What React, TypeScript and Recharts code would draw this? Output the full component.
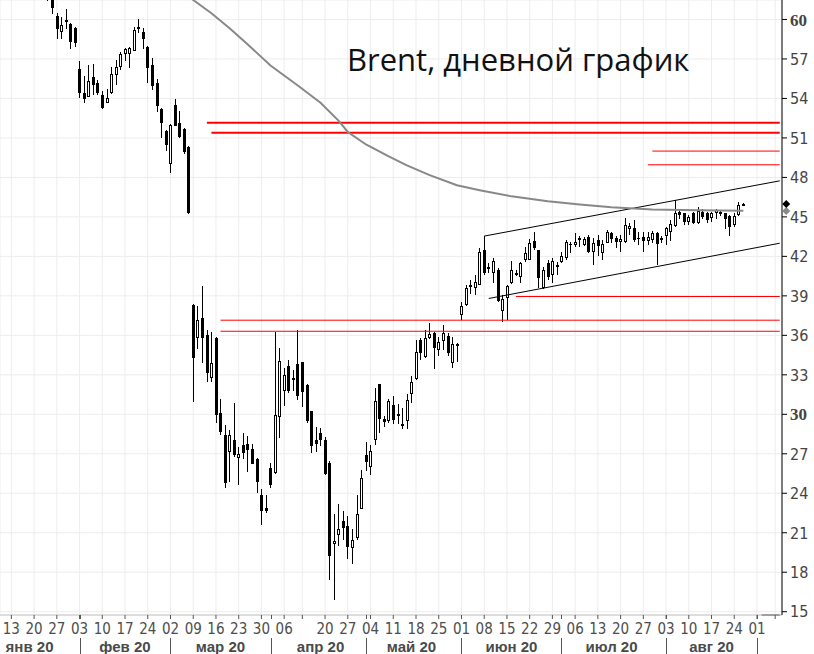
import React from "react";
import {
  ComposedChart,
  Bar,
  Line,
  XAxis,
  YAxis,
  CartesianGrid,
  ReferenceLine,
  ReferenceDot,
} from "recharts";

// ---- categories: trading days (MM-DD, 2020) ----
const dates = [
  "01-09","01-10","01-13","01-14","01-15","01-16","01-17","01-20","01-21","01-22","01-23","01-24","01-27","01-28","01-29","01-30","01-31",
  "02-03","02-04","02-05","02-06","02-07","02-10","02-11","02-12","02-13","02-14","02-17","02-18","02-19","02-20","02-21","02-24","02-25","02-26","02-27","02-28",
  "03-02","03-03","03-04","03-05","03-06","03-09","03-10","03-11","03-12","03-13","03-16","03-17","03-18","03-19","03-20","03-23","03-24","03-25","03-26","03-27","03-30","03-31",
  "04-01","04-02","04-03","04-06","04-07","04-08","04-09","04-10","04-14","04-15","04-16","04-17","04-20","04-21","04-22","04-23","04-24","04-27","04-28","04-29","04-30",
  "05-01","05-04","05-05","05-06","05-07","05-08","05-11","05-12","05-13","05-14","05-15","05-18","05-19","05-20","05-21","05-22","05-25","05-26","05-27","05-28","05-29",
  "06-01","06-02","06-03","06-04","06-05","06-08","06-09","06-10","06-11","06-12","06-15","06-16","06-17","06-18","06-19","06-22","06-23","06-24","06-25","06-26","06-29","06-30",
  "07-01","07-02","07-03","07-06","07-07","07-08","07-09","07-10","07-13","07-14","07-15","07-16","07-17","07-20","07-21","07-22","07-23","07-24","07-27","07-28","07-29","07-30","07-31",
  "08-03","08-04","08-05","08-06","08-07","08-10","08-11","08-12","08-13","08-14","08-17","08-18","08-19","08-20","08-21","08-24","08-25","08-26","08-27","08-28",
  "09-01","09-02","09-03","09-04","09-07","09-08",
];

// ---- candles: Jan 23 .. Aug 26 ----
const candleStart = "01-23";
const open = [
  62.5,61.9,60.3,59.07,59.92,59.69,59.38,
  56.24,54.43,54.12,55.65,55.19,54.28,53.66,54.43,55.81,56.42,57.39,57.39,57.62,59.38,59.07,57.93,56.57,55.19,53.2,51.52,
  49.02,53.51,52.13,51.67,50.32,38.29,35.83,37.28,36.01,32.79,35.8,30.13,28.4,27.13,28.08,26.71,27.7,27.77,27.34,26.63,23.84,22.91,
  25.95,25.54,29.83,31.75,33.65,32.59,33.8,33.95,32.23,30.23,28.02,28.61,28.02,26.27,20.17,20.85,21.86,21.48,19.86,20.59,22.83,
  26.88,25.99,28.08,32.28,29.62,29.49,30.69,30.05,29.29,29.47,31.52,32.72,35.63,34.36,35.76,36.14,34.92,35.57,35.93,33.86,35.17,
  37.53,38.29,39.81,39.56,39.86,42.52,41.2,40.7,40.95,37.86,38.8,39.94,40.65,40.44,41.71,41.76,43.18,42.47,39.56,41.51,40.57,41.2,
  41.58,41.89,42.93,42.85,43.36,42.85,43.44,42.34,43.23,42.22,43.03,43.79,43.36,43.06,43.1,44.05,44.12,43.36,43.48,43.18,43.23,43.74,43.29,
  43.54,43.86,44.3,45.38,45.26,44.62,45.26,44.55,45.38,45.26,44.88,45.26,45.21,45.26,45.06,44.37,45.13,45.95,
];
const high = [
  63.0,62.2,60.53,60.22,60.76,59.77,59.46,
  56.86,55.73,56.57,56.65,55.42,54.58,54.73,56.42,56.95,57.55,57.82,57.93,59.46,60.07,59.38,57.97,57.11,55.5,53.24,51.59,
  52.05,53.97,53.05,51.75,50.39,38.37,38.21,39.73,36.44,36.26,35.88,31.19,29.16,28.84,30.89,27.51,28.61,28.38,27.72,26.7,24.35,23.84,
  26.27,36.26,35.0,33.55,34.16,33.35,36.39,34.0,32.27,30.27,29.03,28.96,28.27,26.48,22.4,23.16,22.62,22.24,21.31,23.84,25.74,
  27.89,27.64,32.03,32.3,29.85,31.19,31.37,30.76,30.51,31.52,32.89,35.68,35.76,36.44,36.97,36.26,35.88,36.77,36.14,35.88,35.42,
  38.54,39.81,40.24,40.57,42.6,43.54,41.46,41.84,41.08,39.05,39.81,41.66,41.0,41.58,42.72,43.29,43.86,42.52,41.2,41.76,41.84,41.58,
  42.34,43.23,43.1,43.74,43.54,43.44,43.61,43.36,43.61,43.23,43.99,43.86,43.54,43.61,44.88,44.5,44.75,43.86,43.86,43.86,43.94,43.86,43.54,
  44.24,44.75,46.27,45.57,45.31,45.13,45.38,45.76,45.57,45.38,45.38,45.57,45.51,45.31,45.13,45.26,46.15,46.08,
];
const low = [
  61.4,60.38,58.54,58.54,59.3,57.77,57.93,
  54.05,53.66,54.09,54.28,54.28,53.2,53.64,54.35,55.04,56.19,56.86,56.34,57.57,59.0,57.77,55.19,54.66,52.97,50.99,50.0,
  48.33,51.88,50.99,49.77,45.2,30.94,34.94,33.86,32.46,32.46,29.34,28.4,24.43,24.85,26.75,24.65,26.58,25.59,26.2,24.02,21.56,22.49,
  24.37,25.49,28.23,30.61,31.62,31.77,31.12,30.56,29.34,27.06,27.13,27.59,25.42,17.43,15.91,19.96,20.42,19.03,18.65,20.42,22.78,
  25.69,25.42,27.7,28.61,29.03,29.34,29.24,29.29,28.86,28.86,30.86,32.59,34.16,34.28,35.74,33.45,34.41,34.87,34.41,33.5,33.98,
  37.15,38.21,39.13,39.05,39.81,40.57,40.7,39.94,38.54,37.02,37.2,39.92,40.49,39.98,41.58,41.71,42.52,39.56,39.51,40.24,39.98,40.57,
  41.46,41.76,42.22,42.72,42.72,42.78,42.22,41.33,42.02,41.71,42.98,42.98,42.6,42.34,43.03,43.61,43.1,42.85,42.34,42.85,43.03,41.33,42.98,
  42.85,43.18,44.24,44.81,44.37,44.37,44.45,44.45,44.81,44.5,44.62,44.81,45.06,44.05,43.54,44.24,45.06,45.87,
];
const close = [
  61.9,60.84,59.3,59.61,59.97,58.31,58.23,
  54.43,53.97,55.35,55.04,54.43,53.28,54.05,55.88,56.42,57.39,57.77,57.85,59.23,59.42,58.54,56.34,54.96,53.43,52.13,50.45,
  51.98,51.9,51.06,49.92,45.28,34.28,37.2,35.76,33.14,33.86,29.98,28.65,24.81,28.46,26.88,27.01,27.06,27.32,26.25,24.85,22.65,22.65,
  24.62,29.92,34.08,33.02,31.77,32.79,31.42,31.7,29.49,27.59,27.77,28.02,25.49,19.22,20.34,21.26,21.38,19.91,20.42,22.45,25.19,
  26.37,27.19,30.99,29.64,29.45,30.99,29.6,29.9,29.14,31.12,32.46,34.77,34.62,35.76,36.08,35.07,35.5,36.14,34.66,35.32,35.32,
  38.24,39.56,39.68,40.06,42.34,40.75,41.05,41.66,38.59,38.75,39.73,40.95,40.75,41.51,42.22,43.03,42.6,40.32,41.0,40.4,41.66,41.33,
  42.02,43.1,42.85,43.1,43.23,43.29,42.34,43.03,42.78,42.93,43.86,43.29,43.1,43.29,44.37,44.3,43.23,43.29,43.16,43.48,43.79,42.93,43.36,
  44.12,44.45,45.26,45.13,44.62,44.96,44.5,45.44,44.96,44.75,45.31,45.51,45.36,44.81,44.24,45.06,45.89,45.99,
];

// ---- moving average (read at sample days) ----
const maDates = ["03-03","03-09","03-13","03-19","03-25","04-01","04-09","04-17","04-23","04-27","05-01","05-08","05-14","05-21","05-29","06-05","06-16","06-26","07-07","07-16","07-29","08-12","08-26"];
const maValues = [62.5,61.48,60.47,59.33,58.1,56.5,54.98,53.67,52.3,51.45,50.5,49.6,48.92,48.17,47.4,47.03,46.56,46.19,45.95,45.73,45.57,45.51,45.46];

// ---- axis ticks ----
const dayTicks = ["01-13","01-20","01-27","02-03","02-10","02-17","02-24","03-02","03-09","03-16","03-23","03-30","04-06","04-10","04-20","04-27","05-04","05-11","05-18","05-25","06-01","06-08","06-15","06-22","06-29","07-06","07-13","07-20","07-27","08-03","08-10","08-17","08-24","09-01","09-07"];
const unlabeledDayTicks = ["04-10","09-07"];
const monthSeparators = ["02-03","03-02","04-01","05-01","06-01","07-01","08-03","09-01"];
const monthLabelDates = ["01-17","02-17","03-17","04-17","05-15","06-16","07-16","08-17"];
const monthLabels = ["янв 20","фев 20","мар 20","апр 20","май 20","июн 20","июл 20","авг 20"];
const yTicks = [15,18,21,24,27,30,33,36,39,42,45,48,51,54,57,60];
const yDomain = [14.75, 61.48];

// ---- drawn levels ----
const thickLevelStarts = ["03-12","03-13"];
const thickLevelValues = [52.15, 51.39];
const thinLevelStarts = ["07-29","07-28","06-17","03-17","03-17"];
const thinLevelValues = [50.0, 48.96, 38.95, 37.15, 36.31];
const lineEnd = "09-08";
const channelUpper = [{ x: "06-08", y: 43.54 }, { x: "09-08", y: 47.74 }];
const channelLower = [{ x: "06-09", y: 38.8 }, { x: "09-08", y: 43.0 }];
const lastPrice = 45.97;
const lastMa = 45.45;

const title = "Brent, дневной график";

const NARROW = "'Liberation Sans Narrow', 'DejaVu Sans Condensed', 'Arial Narrow', sans-serif";

const startIdx = dates.indexOf(candleStart);
const maMap: Record<string, number> = {};
maDates.forEach((d, i) => (maMap[d] = maValues[i]));

const rows = dates.map((d, i) => {
  const k = i - startIdx;
  const has = k >= 0 && k < open.length;
  return {
    d,
    o: has ? open[k] : null,
    h: has ? high[k] : null,
    l: has ? low[k] : null,
    c: has ? close[k] : null,
    range: has ? [low[k], high[k]] : null,
    ma: maMap[d] !== undefined ? maMap[d] : null,
  };
});

const Candle = (props: any) => {
  const { x, y, width, height, payload } = props;
  if (!payload || payload.o == null || x == null || y == null) return null;
  const { o, h, l, c } = payload;
  const top = Math.min(y, y + height);
  const bot = Math.max(y, y + height);
  const span = h - l;
  const ppu = span > 0 ? (bot - top) / span : 0;
  const yO = top + (h - o) * ppu;
  const yC = top + (h - c) * ppu;
  const cx = Math.floor(x + width / 2);
  const up = c >= o;
  const bTop = Math.round(Math.min(yO, yC));
  const bBot = Math.round(Math.max(yO, yC));
  return (
    <g shapeRendering="crispEdges">
      <line x1={cx + 0.5} x2={cx + 0.5} y1={Math.round(top)} y2={Math.round(bot)} stroke="#000" strokeWidth={1} />
      {up ? (
        <rect x={cx - 0.5} y={bTop + 0.5} width={2} height={Math.max(bBot - bTop - 1, 1)} fill="#fff" stroke="#000" strokeWidth={1} />
      ) : (
        <rect x={cx - 1} y={bTop} width={3} height={Math.max(bBot - bTop, 1)} fill="#000" />
      )}
    </g>
  );
};

const DayTick = (props: any) => {
  const { x, y, payload } = props;
  const v: string = payload.value;
  if (unlabeledDayTicks.includes(v)) return <g />;
  return (
    <text x={x} y={y} dy="0.71em" textAnchor="middle" fontFamily={NARROW} fontSize={15} fill="#4d4d4d">
      {v.slice(3)}
    </text>
  );
};

const MonthTick = (props: any) => {
  const { x, y, payload } = props;
  const v: string = payload.value;
  const li = monthLabelDates.indexOf(v);
  if (li >= 0) {
    return (
      <text x={x} y={y} dy="0.97em" textAnchor="middle" fontFamily="'Liberation Sans', Arial, sans-serif" fontWeight={700} fontSize={15} fill="#4a4a4a">
        {monthLabels[li]}
      </text>
    );
  }
  const px = Math.round(x) + 0.5;
  return (
    <g shapeRendering="crispEdges">
      <line x1={px} x2={px} y1={y + 1} y2={y + 17} stroke="#555" />
      <line x1={px} x2={px} y1={y - 22} y2={y - 18} stroke="#555" />
    </g>
  );
};

const YTick = (props: any) => {
  const { x, y, payload } = props;
  const v = payload.value;
  const bold = v % 30 === 0;
  return (
    <text
      x={x}
      y={y}
      dy="0.36em"
      textAnchor="start"
      fontFamily={bold ? "'Liberation Serif', serif" : NARROW}
      fontWeight={bold ? 700 : 400}
      fontSize={bold ? 17 : 16}
      fill="#444"
    >
      {v}
    </text>
  );
};

const Diamond = (color: string) => (props: any) => {
  const { cx, cy } = props;
  if (cx == null || cy == null) return <g />;
  const X = cx + 6.5;
  return <polygon points={`${X},${cy - 4} ${X + 4},${cy} ${X},${cy + 4} ${X - 4},${cy}`} fill={color} />;
};

export default function App() {
  return (
    <div style={{ position: "absolute", left: 0, top: 0, width: 814, height: 654, background: "#fff" }}>
      <ComposedChart width={814} height={654} data={rows} margin={{ top: 0, right: 0, bottom: 0, left: 0 }}>
        <CartesianGrid stroke="#ededed" strokeWidth={1} />
        <XAxis
          dataKey="d"
          type="category"
          ticks={dayTicks}
          interval={0}
          height={22}
          tick={<DayTick />}
          tickSize={4}
          tickMargin={4}
          axisLine={{ stroke: "#c4c4c4" }}
          tickLine={{ stroke: "#555" }}
        />
        <XAxis
          xAxisId="m"
          dataKey="d"
          type="category"
          ticks={[...monthSeparators, ...monthLabelDates]}
          interval={0}
          height={17}
          tick={<MonthTick />}
          tickSize={0}
          tickMargin={0}
          axisLine={false}
          tickLine={false}
        />
        <YAxis
          orientation="right"
          type="number"
          domain={yDomain}
          allowDataOverflow
          ticks={yTicks}
          interval={0}
          width={32}
          tick={<YTick />}
          tickSize={5}
          tickMargin={3}
          axisLine={{ stroke: "#000" }}
          tickLine={{ stroke: "#000" }}
        />
        {thickLevelValues.map((v, i) => (
          <ReferenceLine
            key={"tk" + i}
            segment={[{ x: thickLevelStarts[i], y: v }, { x: lineEnd, y: v }]}
            stroke="#ff0000"
            strokeWidth={2}
            ifOverflow="visible"
          />
        ))}
        {thinLevelValues.map((v, i) => (
          <ReferenceLine
            key={"tn" + i}
            segment={[{ x: thinLevelStarts[i], y: v }, { x: lineEnd, y: v }]}
            stroke="#ff0000"
            strokeWidth={1}
            ifOverflow="visible"
          />
        ))}
        <ReferenceLine segment={channelUpper} stroke="#000" strokeWidth={1} ifOverflow="visible" />
        <ReferenceLine segment={channelLower} stroke="#000" strokeWidth={1} ifOverflow="visible" />
        <ReferenceLine segment={[{ x: "09-02", y: yDomain[0] }, { x: lineEnd, y: yDomain[0] }]} stroke="#000" strokeWidth={1} ifOverflow="visible" />
        <Line
          dataKey="ma"
          type="linear"
          stroke="#888"
          strokeWidth={2}
          dot={false}
          connectNulls
          isAnimationActive={false}
        />
        <Bar dataKey="range" shape={(p: any) => <Candle {...p} />} isAnimationActive={false} />
        <ReferenceDot x={lineEnd} y={lastMa} r={4} ifOverflow="visible" shape={Diamond("#888")} />
        <ReferenceDot x={lineEnd} y={lastPrice} r={4} ifOverflow="visible" shape={Diamond("#000")} />
      </ComposedChart>
      <svg width={814} height={654} style={{ position: "absolute", left: 0, top: 0, pointerEvents: "none" }}>
        <text x={347} y={70.5} fontFamily="'Open Sans', sans-serif" fontSize={31} fill="#111">
          {title}
        </text>
      </svg>
    </div>
  );
}
